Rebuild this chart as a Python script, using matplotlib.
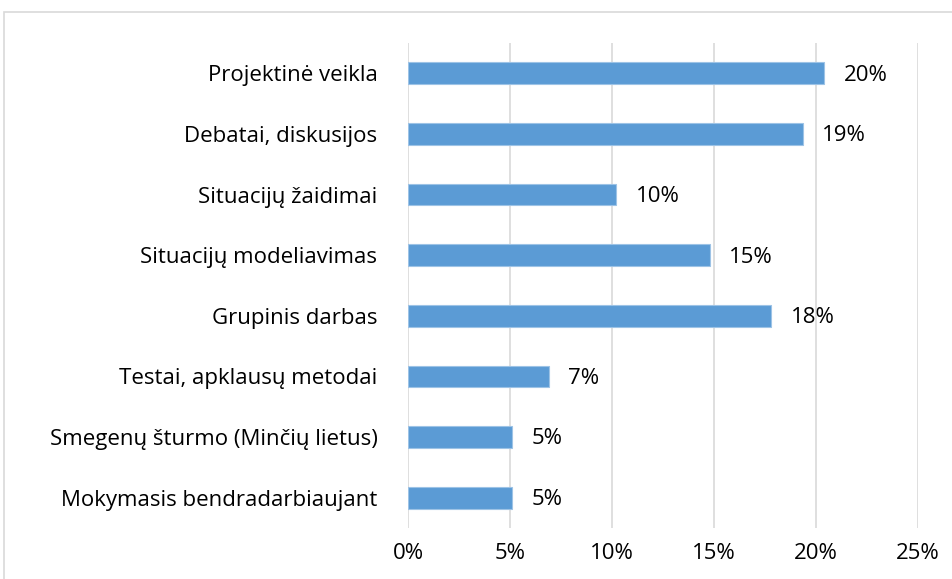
import matplotlib.pyplot as plt
from matplotlib.patches import Rectangle
from matplotlib.ticker import FuncFormatter

categories = [
    "Projektinė veikla",
    "Debatai, diskusijos",
    "Situacijų žaidimai",
    "Situacijų modeliavimas",
    "Grupinis darbas",
    "Testai, apklausų metodai",
    "Smegenų šturmo (Minčių lietus)",
    "Mokymasis bendradarbiaujant",
]
values = [20.4, 19.35, 10.2, 14.8, 17.8, 6.9, 5.1, 5.1]
label_texts = ["20%", "19%", "10%", "15%", "18%", "7%", "5%", "5%"]

plt.rcParams["font.family"] = ["Open Sans", "DejaVu Sans"]
fs = 16

fig = plt.figure(figsize=(9.53, 5.79), dpi=100)
ax = fig.add_axes([408 / 953, 1 - 528 / 579, 510 / 953, 485 / 579])

# outer chart border (cut off on right and bottom)
fig.patches.append(Rectangle((4 / 953, -0.05), 1.1, 1 - 12 / 579 + 0.05,
                             transform=fig.transFigure, fill=False,
                             edgecolor="#d9d9d9", linewidth=1.2))

y = list(range(len(categories)))[::-1]
ax.barh(y, values, height=0.36, color="#5b9bd5", edgecolor="#9dc3e6", linewidth=0.8, zorder=3)

for yi, v, t in zip(y, values, label_texts):
    ax.text(v + 0.95, yi - 0.03, t, va="center", ha="left", fontsize=fs, color="#000000")

ax.set_xlim(0, 25)
ax.set_ylim(-0.5, len(categories) - 0.5)
ax.set_xticks([0, 5, 10, 15, 20, 25])
ax.xaxis.set_major_formatter(FuncFormatter(lambda x, p: f"{int(x)}%"))
ax.set_yticks(y)
ax.set_yticklabels(categories)
ax.tick_params(axis="y", length=0, pad=22, labelsize=fs)
ax.tick_params(axis="x", length=0, pad=11, labelsize=fs)
ax.grid(axis="x", color="#d9d9d9", linewidth=1.2, zorder=0)
for s in ax.spines.values():
    s.set_visible(False)

fig.savefig("out.png", dpi=100)
